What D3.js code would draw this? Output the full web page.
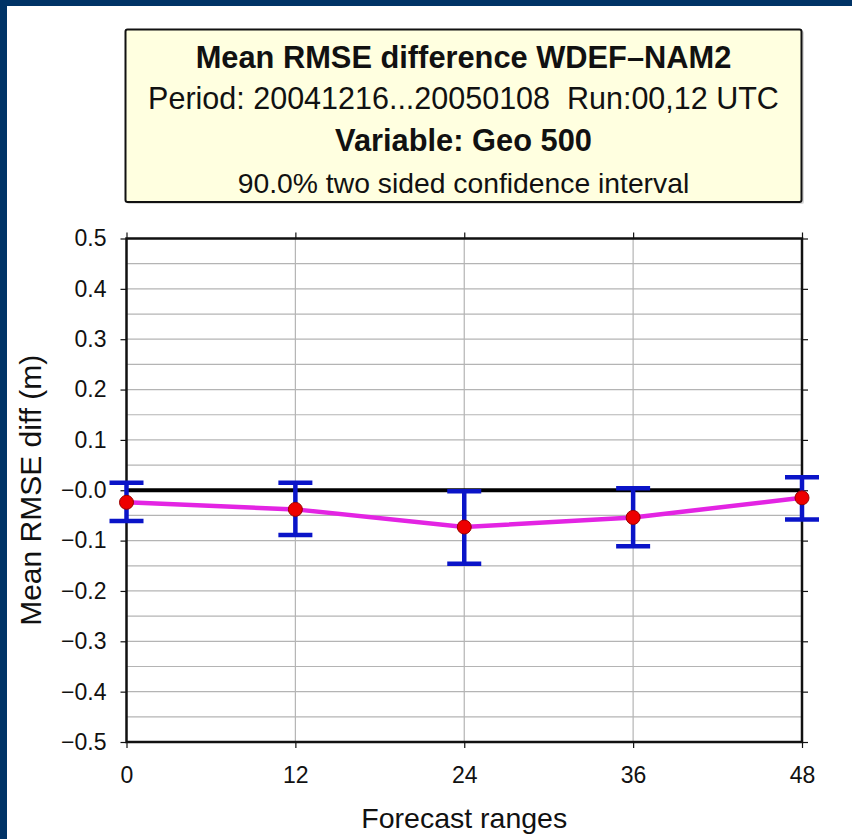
<!DOCTYPE html>
<html>
<head>
<meta charset="utf-8">
<script src="https://cdn.jsdelivr.net/npm/d3@7"></script>
<style>
  html, body { margin: 0; padding: 0; background: #ffffff; }
  svg { display: block; }
  text { font-family: "Liberation Sans", Arial, Helvetica, sans-serif; fill: #111; }
</style>
</head>
<body>
<svg id="chart" width="852" height="839"></svg>
<script>
// ---- data ----
const forecastRanges = [0, 12, 24, 36, 48];
const meanDiff  = [-0.024, -0.038, -0.073, -0.054, -0.015];
const upperCI   = [0.015, 0.015, -0.002, 0.004, 0.026];
const lowerCI   = [-0.061, -0.089, -0.146, -0.111, -0.058];
const yTicks    = [0.5, 0.4, 0.3, 0.2, 0.1, 0.0, -0.1, -0.2, -0.3, -0.4, -0.5];
const yTickLabels = ["0.5","0.4","0.3","0.2","0.1","\u22120.0","\u22120.1","\u22120.2","\u22120.3","\u22120.4","\u22120.5"];
const xTicks    = [0, 12, 24, 36, 48];
const titleLines = [
  "Mean RMSE difference WDEF\u2013NAM2",
  "Period: 20041216...20050108  Run:00,12 UTC",
  "Variable: Geo 500",
  "90.0% two sided confidence interval"
];
const yLabel = "Mean RMSE diff (m)";
const xLabel = "Forecast ranges";

(function () {
// ---- layout ----
const svg = d3.select("#chart");
const W = 852, H = 839;
const pL = 126.5, pR = 802, pT = 238.5, pB = 742;

// background frame
svg.append("rect").attr("x", 0).attr("y", 0).attr("width", W).attr("height", H).attr("fill", "#003366");
svg.append("rect").attr("x", 7).attr("y", 6).attr("width", W - 7).attr("height", H - 6).attr("fill", "#ffffff");

// title box
svg.append("rect").attr("x", 127).attr("y", 31).attr("width", 677).attr("height", 173)
  .attr("fill", "#d8d8d8").attr("rx", 2);
svg.append("rect").attr("x", 125.5).attr("y", 29.5).attr("width", 676).attr("height", 172.5)
  .attr("fill", "#ffffe0").attr("stroke", "#111").attr("stroke-width", 2).attr("rx", 2);

const cx = (125.5 + 801.5) / 2;
const titleSpecs = [
  { y: 68, size: 30.8, weight: "bold" },
  { y: 109, size: 30.5, weight: "normal" },
  { y: 151, size: 30.8, weight: "bold" },
  { y: 193, size: 28.3, weight: "normal" }
];
titleLines.forEach((t, i) => {
  svg.append("text").attr("x", cx).attr("y", titleSpecs[i].y)
    .attr("text-anchor", "middle")
    .attr("font-size", titleSpecs[i].size)
    .attr("font-weight", titleSpecs[i].weight)
    .attr("xml:space", "preserve")
    .style("white-space", "pre")
    .text(t);
});

// scales
const x = d3.scaleLinear().domain([0, 48]).range([pL, pR]);
const y = d3.scaleLinear().domain([-0.5, 0.5]).range([pB, pT]);

// grid
const g = svg.append("g");
const minorY = d3.range(-0.45, 0.5, 0.05).map(v => Math.round(v * 100) / 100);
g.selectAll("line.hgrid").data(minorY).enter().append("line")
  .attr("x1", pL).attr("x2", pR)
  .attr("y1", d => y(d)).attr("y2", d => y(d))
  .attr("stroke", "#b4b4b4").attr("stroke-width", 1.2);
g.selectAll("line.vgrid").data(xTicks.slice(1, -1)).enter().append("line")
  .attr("y1", pT).attr("y2", pB)
  .attr("x1", d => x(d)).attr("x2", d => x(d))
  .attr("stroke", "#b4b4b4").attr("stroke-width", 1.2);

// axes with outward ticks on all sides
const yAxisL = d3.axisLeft(y).tickValues(yTicks).tickSize(6).tickPadding(14)
  .tickFormat((d, i) => yTickLabels[i]);
const yAxisR = d3.axisRight(y).tickValues(yTicks).tickSize(6).tickFormat("");
const xAxisB = d3.axisBottom(x).tickValues(xTicks).tickSize(6).tickPadding(19).tickFormat(d3.format("d"));
const xAxisT = d3.axisTop(x).tickValues(xTicks).tickSize(6).tickFormat("");

function styleAxis(sel, fontSize) {
  sel.select(".domain").remove();
  sel.selectAll(".tick line").attr("stroke", "#111").attr("stroke-width", 1.2);
  sel.selectAll(".tick text").attr("font-size", fontSize)
    .attr("font-family", "'Liberation Sans', Arial, sans-serif").attr("fill", "#111");
}
svg.append("g").attr("transform", `translate(${pL},0)`).call(yAxisL).call(s => styleAxis(s, 23));
svg.append("g").attr("transform", `translate(${pR},0)`).call(yAxisR).call(s => styleAxis(s, 23));
svg.append("g").attr("transform", `translate(0,${pB})`).call(xAxisB).call(s => styleAxis(s, 23));
svg.append("g").attr("transform", `translate(0,${pT})`).call(xAxisT).call(s => styleAxis(s, 23));

// frame
svg.append("rect").attr("x", pL).attr("y", pT).attr("width", pR - pL).attr("height", pB - pT)
  .attr("fill", "none").attr("stroke", "#111").attr("stroke-width", 2.5);

// zero line
svg.append("line").attr("x1", pL).attr("x2", pR).attr("y1", y(0)).attr("y2", y(0))
  .attr("stroke", "#000").attr("stroke-width", 4);

// data line
const pts = forecastRanges.map((f, i) => ({ f, m: meanDiff[i], u: upperCI[i], l: lowerCI[i] }));
svg.append("path").datum(pts)
  .attr("d", d3.line().x(d => x(d.f)).y(d => y(d.m)))
  .attr("fill", "none").attr("stroke", "#e324e3").attr("stroke-width", 4.5);

// error bars
const eb = svg.append("g").attr("stroke", "#0a14c8").attr("stroke-width", 4.5);
const capHalf = 17;
eb.selectAll("line.v").data(pts).enter().append("line")
  .attr("x1", d => x(d.f)).attr("x2", d => x(d.f))
  .attr("y1", d => y(d.u)).attr("y2", d => y(d.l));
eb.selectAll("line.cu").data(pts).enter().append("line")
  .attr("x1", d => x(d.f) - capHalf).attr("x2", d => x(d.f) + capHalf)
  .attr("y1", d => y(d.u)).attr("y2", d => y(d.u));
eb.selectAll("line.cl").data(pts).enter().append("line")
  .attr("x1", d => x(d.f) - capHalf).attr("x2", d => x(d.f) + capHalf)
  .attr("y1", d => y(d.l)).attr("y2", d => y(d.l));

// points
svg.selectAll("circle.pt").data(pts).enter().append("circle")
  .attr("cx", d => x(d.f)).attr("cy", d => y(d.m)).attr("r", 7)
  .attr("fill", "#ee0000").attr("stroke", "#990000").attr("stroke-width", 1);

// axis labels
svg.append("text").attr("transform", `translate(41,${(pT + pB) / 2}) rotate(-90)`)
  .attr("text-anchor", "middle").attr("font-size", 30).text(yLabel);
svg.append("text").attr("x", (pL + pR) / 2).attr("y", 828)
  .attr("text-anchor", "middle").attr("font-size", 28.5).text(xLabel);
})();
</script>
</body>
</html>
